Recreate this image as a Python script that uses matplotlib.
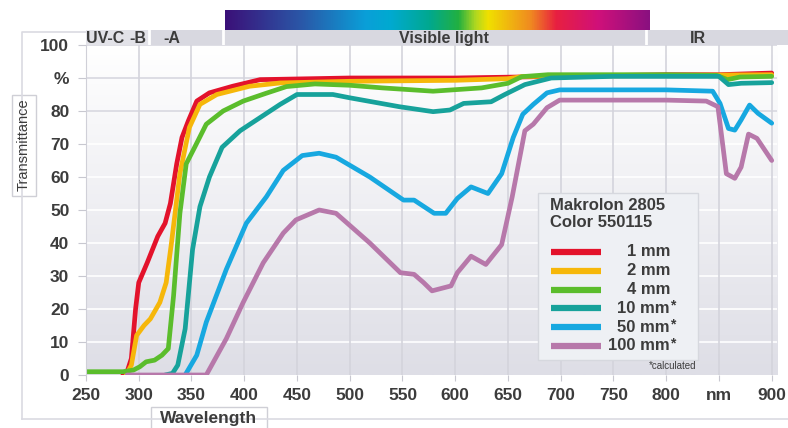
import matplotlib.pyplot as plt
from matplotlib.colors import LinearSegmentedColormap
from matplotlib.patches import Rectangle
import numpy as np

plt.rcParams['font.family'] = ['Liberation Sans', 'DejaVu Sans']

# transmittance curves (wavelength nm, transmittance %)
wl_1mm = [285, 289, 293, 297, 300, 308, 318, 325, 330, 336, 341, 347, 355, 367, 389, 415, 500, 600, 700, 800, 850, 900]
t_1mm = [0, 1, 5, 20, 28, 34, 42, 46, 52, 64, 72, 77, 83, 85.5, 87.5, 89.5, 90, 90, 90.5, 91, 91, 91.5]

wl_2mm = [288, 293, 298, 305, 311, 320, 326, 331, 339, 348, 358, 374, 405, 434, 500, 600, 650, 665, 700, 800, 900]
t_2mm = [0, 3, 12, 15, 17, 22, 28, 40, 61, 75, 82, 85, 87.5, 88.5, 89, 89.3, 89.8, 90.5, 90.5, 90.8, 91]

wl_4mm = [250, 285, 295, 301, 307, 315, 322, 328, 333, 339, 345, 353, 364, 380, 399, 421, 440, 467, 500, 531,
          579, 625, 650, 663, 688, 750, 800, 848, 858, 870, 900]
t_4mm = [1, 1, 1.5, 2.5, 4, 4.5, 6, 8, 24, 49, 64, 69, 76, 80, 83, 85.4, 87.4, 88.2, 87.8, 87,
         86, 87, 88.4, 90.4, 91, 91, 91, 90.8, 89.5, 90.3, 90.5]

wl_10mm = [325, 332, 337, 344, 351, 358, 367, 379, 396, 415, 434, 450, 484, 500, 547, 579, 595, 608, 634, 647,
           666, 691, 750, 800, 850, 859, 871, 900]
t_10mm = [0, 0.5, 3, 14, 38, 51, 60, 69, 74, 78, 82, 85, 85, 84, 81.3, 79.8, 80.3, 82.3, 82.8, 85,
          88, 90, 90.5, 90.5, 90.5, 88, 88.4, 88.6]

wl_50mm = [344, 355, 364, 383, 402, 421, 437, 455, 471, 487, 519, 551, 561, 580, 591, 602, 615, 631, 644, 655,
           664, 674, 687, 699, 750, 800, 844, 851, 859, 865, 871, 879, 887, 900]
t_50mm = [0, 6, 16, 32, 46, 54, 62, 66.5, 67.2, 66, 60, 53, 53, 49, 49, 53.5, 57, 55, 61, 72,
          79, 82, 85.5, 86.4, 86.4, 86.4, 86, 82.3, 74.7, 74.2, 77.3, 81.8, 79.3, 76.3]

wl_100mm = [289, 364, 383, 399, 418, 437, 449, 471, 487, 519, 548, 561, 570, 578, 596, 602, 615, 629, 644, 654,
            666, 674, 687, 699, 750, 800, 838, 849, 857, 865, 871, 878, 886, 900]
t_100mm = [0, 0, 11, 22, 34, 43, 47, 50, 49, 40, 31, 30.5, 28, 25.5, 27, 31, 36, 33.5, 39.5, 54,
           74, 76, 81, 83.3, 83.3, 83.3, 83, 81.3, 61, 59.6, 63, 73, 71.7, 65]

series_wl = [wl_1mm, wl_2mm, wl_4mm, wl_10mm, wl_50mm, wl_100mm]
series_t = [t_1mm, t_2mm, t_4mm, t_10mm, t_50mm, t_100mm]
series_labels = ['1 mm', '2 mm', '4 mm', '10 mm', '50 mm', '100 mm']
series_calc = [False, False, False, True, True, True]
series_colors = ['#e3122b', '#f6b70a', '#5bbd2c', '#17a29b', '#17a8e0', '#b778aa']

x_ticks = [250, 300, 350, 400, 450, 500, 550, 600, 650, 700, 750, 800, 850, 900]
x_ticklabels = ['250', '300', '350', '400', '450', '500', '550', '600', '650', '700', '750', '800', 'nm', '900']
y_ticks = [0, 10, 20, 30, 40, 50, 60, 70, 80, 90, 100]
y_ticklabels = ['0', '10', '20', '30', '40', '50', '60', '70', '80', '%', '100']

band_spans = [(250, 310), (310, 380), (380, 781), (781, 916)]
band_colors = ['#e2e2e8', '#d8d8e0', '#d8d8e0', '#d8d8e0']
band_labels = ['UV-C', '-B', '-A', 'Visible light', 'IR']
band_label_pos = [268, 299, 331, 589, 830]

spectrum_colors = ['#3b1078', '#2a58a8', '#0a9fd8', '#00aad0', '#00a890', '#22b040', '#b0d820',
                   '#f0e000', '#f08a20', '#e82040', '#d0107a', '#8a1080']
spectrum_stops = [0, 0.18, 0.33, 0.39, 0.48, 0.55, 0.59, 0.62, 0.72, 0.78, 0.88, 1.0]

W, H = 788, 428
fig = plt.figure(figsize=(W / 100, H / 100), dpi=100)
tc = '#3c3c3c'

# background decorations (frame, axis title boxes), in pixel coordinates
back = fig.add_axes([0, 0, 1, 1], zorder=-1)
back.set_xlim(0, W)
back.set_ylim(H, 0)
back.axis('off')
back.plot([22, 22, 90], [419, 32, 32], color='#dadae2', lw=1.2)
back.plot([22, W], [419, 419], color='#dadae2', lw=1.2)
back.add_patch(Rectangle((12, 95), 24, 101, facecolor='white', edgecolor='#cfcfd6', lw=1))
back.text(24, 145, 'Transmittance', rotation=90, ha='center', va='center', fontsize=10.5, color=tc)
back.add_patch(Rectangle((151, 407), 116, 30, facecolor='white', edgecolor='#cfcfd6', lw=1))
back.text(209, 419, 'Wavelength', ha='center', va='center', fontsize=12.5, fontweight='bold', color=tc)

# main plot
ax = fig.add_axes([86 / W, 53 / H, 691 / W, 330 / H])
ax.set_xlim(250, 905)
ax.set_ylim(0, 100)
grad = np.linspace(0, 1, 256).reshape(-1, 1)
bg_cmap = LinearSegmentedColormap.from_list('bg', ['#dedee6', '#ffffff'])
ax.imshow(grad, extent=[250, 905, 0, 100], origin='lower', aspect='auto', cmap=bg_cmap, zorder=0)
for yv in y_ticks[1:]:
    ax.axhline(yv, color='#d8d8e0' if yv >= 80 else 'white', lw=1.2, zorder=0.5)
for xv in x_ticks[1:]:
    ax.axvline(xv, color='#d4d4dc', lw=1.2, zorder=0.5)

for wl, t, c in zip(series_wl, series_t, series_colors):
    ax.plot(wl, t, color=c, lw=3.4, solid_joinstyle='round', solid_capstyle='round', zorder=2)

ax.set_xticks(x_ticks)
ax.set_xticklabels(x_ticklabels)
ax.set_yticks(y_ticks)
ax.set_yticklabels(y_ticklabels)
ax.tick_params(axis='both', colors='#c8c8d0', labelcolor=tc, labelsize=12.5)
ax.tick_params(axis='y', length=6, pad=6)
ax.tick_params(axis='x', length=4, pad=5)
for lab in ax.get_xticklabels() + ax.get_yticklabels():
    lab.set_fontweight('bold')
for s in ['top', 'right', 'bottom']:
    ax.spines[s].set_visible(False)
ax.spines['left'].set_color('#d0d0d8')

# region band above the plot
band = fig.add_axes([86 / W, (H - 45) / H, (W - 86) / W, 15 / H])
band.set_xlim(250, 250 + (W - 86) / 1.055)
band.set_ylim(0, 1)
band.axis('off')
for (a, b), c in zip(band_spans, band_colors):
    band.axvspan(a, b, color=c, lw=0)
    band.axvline(b, color='white', lw=2)
for lab, xp in zip(band_labels, band_label_pos):
    band.text(xp, 0.45, lab, ha='center', va='center', fontsize=11.5, fontweight='bold', color=tc)

# visible spectrum strip
spec = fig.add_axes([225 / W, (H - 30) / H, 425 / W, 20 / H])
spec_cmap = LinearSegmentedColormap.from_list('spec', list(zip(spectrum_stops, spectrum_colors)))
spec.imshow(np.linspace(0, 1, 512).reshape(1, -1), aspect='auto', cmap=spec_cmap)
spec.axis('off')

# legend box
front = fig.add_axes([0, 0, 1, 1], zorder=5)
front.set_xlim(0, W)
front.set_ylim(H, 0)
front.axis('off')
front.patch.set_alpha(0)
front.add_patch(Rectangle((538, 193), 160, 167, facecolor='#eef0f4', edgecolor='#d6d8de', lw=1))
front.text(550, 205, 'Makrolon 2805', ha='left', va='center', fontsize=12, fontweight='bold', color=tc)
front.text(550, 222, 'Color 550115', ha='left', va='center', fontsize=12, fontweight='bold', color=tc)
for i, (lab, calc, c) in enumerate(zip(series_labels, series_calc, series_colors)):
    yy = 252 + i * 18.8
    front.plot([551, 601], [yy, yy], color=c, lw=4.5, solid_capstyle='butt')
    front.text(670, yy, lab, ha='right', va='center', fontsize=12, fontweight='bold', color=tc)
    if calc:
        front.text(670, yy - 3, '*', ha='left', va='center', fontsize=10, fontweight='bold', color=tc)
front.text(696, 366, '*calculated', ha='right', va='center', fontsize=7, color=tc)

fig.savefig('out.png', dpi=100)
